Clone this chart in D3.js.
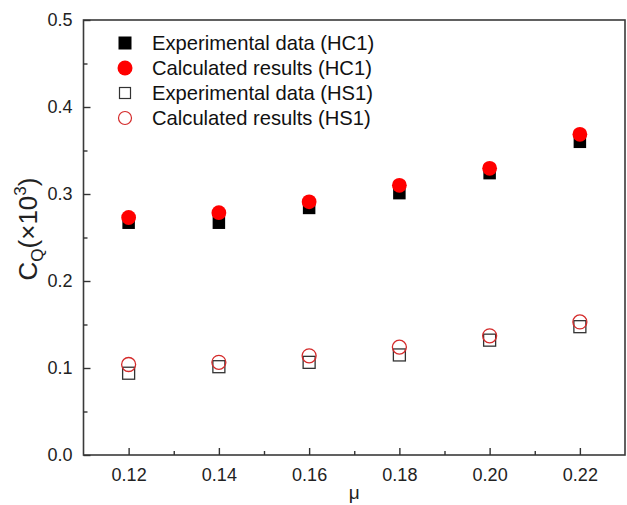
<!DOCTYPE html>
<html>
<head>
<meta charset="utf-8">
<script src="https://cdn.jsdelivr.net/npm/d3@7/dist/d3.min.js"></script>
<style>
  html, body { margin: 0; padding: 0; background: #fff; }
  svg { display: block; font-family: "Liberation Sans", Arial, sans-serif; }
</style>
</head>
<body>
<svg id="chart" width="627" height="505"></svg>
<script>
// Friction coefficient values along the x axis
const mu = [0.12, 0.14, 0.16, 0.18, 0.20, 0.22];

// Flow coefficient C_Q (×10^3) per case
const expHC1  = [0.267, 0.267, 0.284, 0.301, 0.324, 0.360];
const calcHC1 = [0.273, 0.2785, 0.291, 0.310, 0.3295, 0.3686];
const expHS1  = [0.094, 0.1015, 0.1065, 0.115, 0.132, 0.1475];
const calcHS1 = [0.104, 0.1065, 0.114, 0.124, 0.137, 0.153];

const xTicks = [0.12, 0.14, 0.16, 0.18, 0.20, 0.22];
const xMinor = [0.13, 0.15, 0.17, 0.19, 0.21];
const yTicks = [0.0, 0.1, 0.2, 0.3, 0.4, 0.5];
const yMinor = [0.05, 0.15, 0.25, 0.35, 0.45];

const legendLabels = [
  "Experimental data (HC1)",
  "Calculated results (HC1)",
  "Experimental data (HS1)",
  "Calculated results (HS1)"
];

const svg = d3.select("#chart");
const plotLeft = 83.5, plotRight = 625, plotTop = 20, plotBottom = 455;

const x = d3.scaleLinear().domain([0.11, 0.23]).range([plotLeft, plotRight]);
const y = d3.scaleLinear().domain([0, 0.5]).range([plotBottom, plotTop]);

const axisColor = "#333";
const red = "#ff0000";
const hollowRed = "#d42a2a";

// Plot frame
svg.append("rect")
  .attr("x", plotLeft).attr("y", plotTop)
  .attr("width", plotRight - plotLeft).attr("height", plotBottom - plotTop)
  .attr("fill", "none").attr("stroke", "#3a3a3a").attr("stroke-width", 1.6);

// Bottom axis: inward ticks, labels below
const xAxis = svg.append("g").attr("transform", `translate(0,${plotBottom})`)
  .call(d3.axisBottom(x).tickValues(xTicks).tickSize(-7).tickPadding(13)
    .tickFormat(d3.format(".2f")));
xAxis.select(".domain").remove();
xAxis.selectAll(".tick line").attr("stroke", axisColor).attr("stroke-width", 1.4);
xAxis.selectAll(".tick text").attr("font-size", 18).attr("fill", "#222")
  .attr("font-family", "Liberation Sans, Arial, sans-serif");

const xMin = svg.append("g").attr("transform", `translate(0,${plotBottom})`)
  .call(d3.axisBottom(x).tickValues(xMinor).tickSize(-4).tickFormat(""));
xMin.select(".domain").remove();
xMin.selectAll(".tick line").attr("stroke", axisColor).attr("stroke-width", 1.4);

// Left axis
const yAxis = svg.append("g").attr("transform", `translate(${plotLeft},0)`)
  .call(d3.axisLeft(y).tickValues(yTicks).tickSize(-7).tickPadding(11)
    .tickFormat(d3.format(".1f")));
yAxis.select(".domain").remove();
yAxis.selectAll(".tick line").attr("stroke", axisColor).attr("stroke-width", 1.4);
yAxis.selectAll(".tick text").attr("font-size", 18).attr("fill", "#222")
  .attr("font-family", "Liberation Sans, Arial, sans-serif");

const yMin = svg.append("g").attr("transform", `translate(${plotLeft},0)`)
  .call(d3.axisLeft(y).tickValues(yMinor).tickSize(-4).tickFormat(""));
yMin.select(".domain").remove();
yMin.selectAll(".tick line").attr("stroke", axisColor).attr("stroke-width", 1.4);

// Axis titles
svg.append("text")
  .attr("x", (plotLeft + plotRight) / 2).attr("y", 499)
  .attr("text-anchor", "middle")
  .attr("font-size", 19).attr("fill", "#222").text("μ");

const yTitle = svg.append("text")
  .attr("transform", "translate(37,229) rotate(-90)")
  .attr("text-anchor", "middle")
  .attr("font-size", 26).attr("fill", "#222");
yTitle.append("tspan").text("C");
yTitle.append("tspan").attr("font-size", 17).attr("dy", 6).text("Q");
yTitle.append("tspan").attr("dy", -6).text("(×10");
yTitle.append("tspan").attr("font-size", 17).attr("dy", -11).text("3");
yTitle.append("tspan").attr("dy", 11).text(")");

// Marker helpers
const sq = 12.5, sqHollow = 12, rFill = 7.4, rHollow = 7;

function squares(vals, filled, size) {
  svg.append("g").selectAll("rect").data(vals).join("rect")
    .attr("x", (d, i) => x(mu[i]) - size / 2)
    .attr("y", d => y(d) - size / 2)
    .attr("width", size).attr("height", size)
    .attr("fill", filled ? "#000" : "none")
    .attr("stroke", filled ? "none" : "#333")
    .attr("stroke-width", 1.3);
}
function circles(vals, filled, r) {
  svg.append("g").selectAll("circle").data(vals).join("circle")
    .attr("cx", (d, i) => x(mu[i]))
    .attr("cy", d => y(d))
    .attr("r", r)
    .attr("fill", filled ? red : "none")
    .attr("stroke", filled ? "none" : hollowRed)
    .attr("stroke-width", 1.3);
}

squares(expHC1, true, sq);
circles(calcHC1, true, rFill);
squares(expHS1, false, sqHollow);
circles(calcHS1, false, rHollow);

// Legend
const legX = 125, legY = 43, legStep = 25;
const leg = svg.append("g");
legendLabels.forEach((label, i) => {
  const cy = legY + i * legStep;
  if (i === 0) {
    leg.append("rect").attr("x", legX - 6.5).attr("y", cy - 6.5)
      .attr("width", 13).attr("height", 13).attr("fill", "#000");
  } else if (i === 1) {
    leg.append("circle").attr("cx", legX).attr("cy", cy).attr("r", 7.5).attr("fill", red);
  } else if (i === 2) {
    leg.append("rect").attr("x", legX - 5.5).attr("y", cy - 5.5)
      .attr("width", 11).attr("height", 11).attr("fill", "none")
      .attr("stroke", "#333").attr("stroke-width", 1.2);
  } else {
    leg.append("circle").attr("cx", legX).attr("cy", cy).attr("r", 6.5)
      .attr("fill", "none").attr("stroke", hollowRed).attr("stroke-width", 1.2);
  }
  leg.append("text").attr("x", 152).attr("y", cy)
    .attr("dominant-baseline", "central")
    .attr("font-size", 20.2).attr("fill", "#111").text(label);
});
</script>
</body>
</html>
